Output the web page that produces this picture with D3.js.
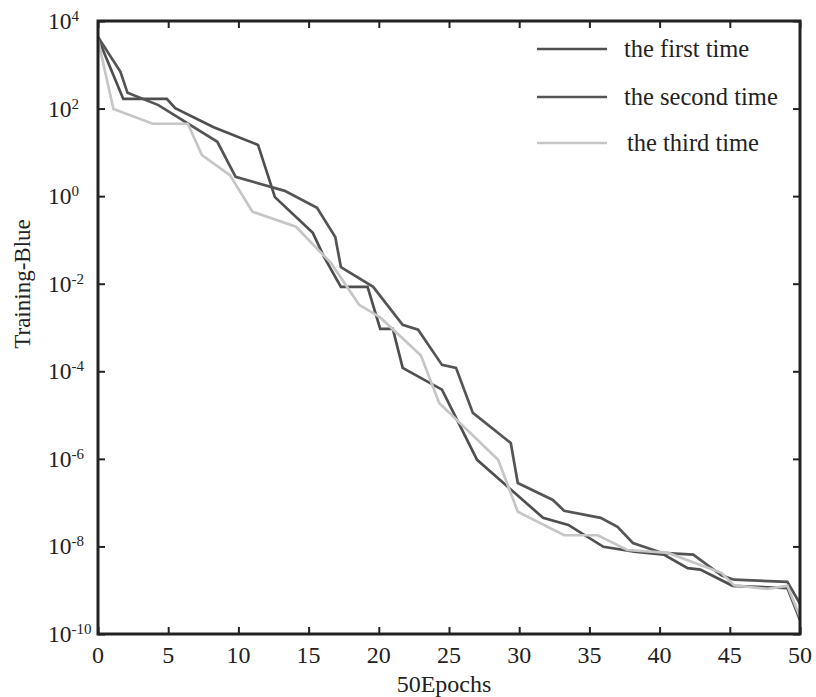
<!DOCTYPE html>
<html>
<head>
<meta charset="utf-8">
<script src="https://cdn.jsdelivr.net/npm/d3@7"></script>
<style>
  html, body { margin: 0; padding: 0; background: #fff; }
  svg text { font-family: "Liberation Serif", "DejaVu Serif", serif; fill: #222; }
</style>
</head>
<body>
<svg id="chart" width="816" height="697"></svg>
<script>
// ---- data ----
const seriesNames = ["the first time", "the second time", "the third time"];

const firstEpochs = [0,1.8,4.9,5.5,8.2,11.4,12.6,15.3,16.1,17.3,19.2,20.1,21.0,21.7,24.5,27.0,31.7,33.5,36.0,38.2,40.3,42.0,42.9,45.2,49.1,50];
const firstValues = [4100,166,166,102,38,14.8,0.95,0.145,0.041,0.0085,0.0085,9.3e-4,9.3e-4,1.2e-4,3.8e-5,9.5e-7,4.5e-8,3.1e-8,9.8e-9,7.6e-9,6.5e-9,3.2e-9,2.95e-9,1.26e-9,1.12e-9,2.1e-10];

const secondEpochs = [0,1.6,2.1,4.3,8.5,9.8,13.3,15.6,16.9,17.3,19.6,21.7,22.8,24.5,25.5,26.7,29.4,29.9,32.4,33.2,35.8,37.0,38.1,40.2,42.4,44.4,45.3,49.1,50];
const secondValues = [4300,690,229,120,17.4,2.75,1.32,0.54,0.117,0.024,0.0085,1.15e-3,8.9e-4,1.4e-4,1.2e-4,1.12e-5,2.3e-6,2.8e-7,1.15e-7,6.5e-8,4.5e-8,2.8e-8,1.2e-8,7.1e-9,6.5e-9,2.2e-9,1.74e-9,1.55e-9,4.9e-10];

const thirdEpochs = [0,1.1,3.9,6.4,7.4,9.4,11.0,14.1,16.6,18.6,20.1,23.0,24.3,28.5,29.9,33.2,35.6,37.7,40.6,44.4,45.3,47.7,49.1,50];
const thirdValues = [3700,98,45,45,8.7,3.0,0.44,0.2,0.0295,0.0033,0.0017,2.3e-4,1.9e-5,9.5e-7,6.2e-8,1.8e-8,1.8e-8,8.3e-9,7.1e-9,2.5e-9,1.3e-9,1.07e-9,1.26e-9,2.45e-10];

const xTicks = [0,5,10,15,20,25,30,35,40,45,50];
const yTickExponents = [4,2,0,-2,-4,-6,-8,-10];
const xLabel = "50Epochs";
const yLabel = "Training-Blue";

// ---- layout ----
const svg = d3.select("#chart");
const mLeft = 98, mRight = 800, mTop = 21, mBottom = 634;
const x = d3.scaleLinear().domain([0, 50]).range([mLeft, mRight]);
const y = d3.scaleLog().domain([1e-10, 1e4]).range([mBottom, mTop]);
const yTicks = yTickExponents.map(e => Math.pow(10, e));

const colors = ["#4f4f4f", "#555555", "#c6c6c6"];
const seriesData = [
  firstEpochs.map((e, i) => [e, firstValues[i]]),
  secondEpochs.map((e, i) => [e, secondValues[i]]),
  thirdEpochs.map((e, i) => [e, thirdValues[i]])
];

const line = d3.line().x(d => x(d[0])).y(d => y(d[1]));

const plot = svg.append("g");
seriesData.forEach((s, i) => {
  plot.append("path").datum(s)
    .attr("d", line)
    .attr("fill", "none")
    .attr("stroke", colors[i])
    .attr("stroke-width", 2.7)
    .attr("stroke-linejoin", "miter");
});

// ---- axes (ticks inward) ----
const tickLen = 7;
function styleAxis(g) {
  g.select(".domain").remove();
  g.selectAll(".tick line").attr("stroke", "#222").attr("stroke-width", 2);
  g.selectAll(".tick text").remove();
}
svg.append("g").attr("transform", `translate(0,${mBottom})`)
  .call(d3.axisBottom(x).tickValues(xTicks).tickSize(-tickLen)).call(styleAxis);
svg.append("g").attr("transform", `translate(0,${mTop})`)
  .call(d3.axisTop(x).tickValues(xTicks).tickSize(-tickLen)).call(styleAxis);
svg.append("g").attr("transform", `translate(${mLeft},0)`)
  .call(d3.axisLeft(y).tickValues(yTicks).tickSize(-tickLen)).call(styleAxis);
svg.append("g").attr("transform", `translate(${mRight},0)`)
  .call(d3.axisRight(y).tickValues(yTicks).tickSize(-tickLen)).call(styleAxis);

// frame
svg.append("rect")
  .attr("x", mLeft).attr("y", mTop)
  .attr("width", mRight - mLeft).attr("height", mBottom - mTop)
  .attr("fill", "none").attr("stroke", "#222").attr("stroke-width", 3);

// x tick labels
svg.append("g").selectAll("text").data(xTicks).join("text")
  .attr("x", d => x(d)).attr("y", 663)
  .attr("text-anchor", "middle")
  .attr("font-size", 24)
  .text(d => d);

// y tick labels with superscripts
const yl = svg.append("g").selectAll("text").data(yTickExponents).join("text")
  .attr("x", 48).attr("y", e => y(Math.pow(10, e)) + 8)
  .attr("font-size", 23.5);
yl.append("tspan").text("10");
yl.append("tspan").attr("dy", -8).attr("font-size", 15).text(e => e < 0 ? "-" + Math.abs(e) : e);

// axis titles
svg.append("text").attr("x", 444).attr("y", 692)
  .attr("text-anchor", "middle").attr("font-size", 24).text(xLabel);
svg.append("text")
  .attr("transform", `translate(30,284) rotate(-90)`)
  .attr("text-anchor", "middle").attr("font-size", 23).text(yLabel);

// legend
const legendY = [49, 97, 143];
const legend = svg.append("g");
seriesNames.forEach((name, i) => {
  legend.append("line")
    .attr("x1", 537).attr("x2", 607)
    .attr("y1", legendY[i]).attr("y2", legendY[i])
    .attr("stroke", colors[i]).attr("stroke-width", 2.7);
  legend.append("text")
    .attr("x", i === 2 ? 627 : 624).attr("y", legendY[i] + 8)
    .attr("font-size", 24.5).text(name);
});
</script>
</body>
</html>
